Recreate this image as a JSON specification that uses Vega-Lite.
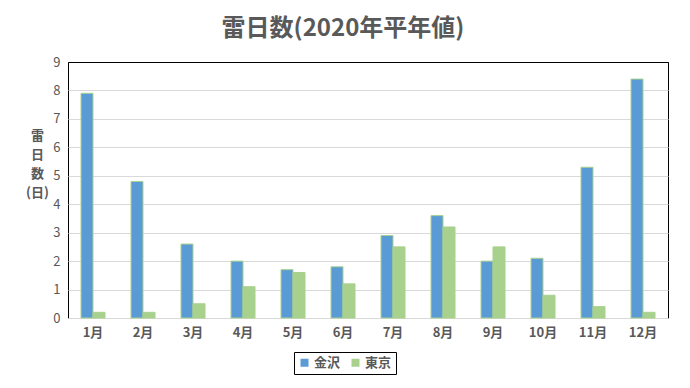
{
  "$schema": "https://vega.github.io/schema/vega-lite/v6.json",
  "width": 600,
  "height": 256,
  "autosize": {"type": "none"},
  "padding": {"left": 68, "top": 62, "right": 22, "bottom": 70},
  "background": "white",
  "title": {
    "text": "雷日数(2020年平年値)",
    "font": "Noto Sans CJK JP",
    "fontSize": 24,
    "fontWeight": "bold",
    "color": "#595959",
    "anchor": "middle",
    "dx": -25,
    "offset": 15
  },
  "data": {
    "values": [
      {"month": "1月", "city": "金沢", "days": 7.9},
      {"month": "1月", "city": "東京", "days": 0.2},
      {"month": "2月", "city": "金沢", "days": 4.8},
      {"month": "2月", "city": "東京", "days": 0.2},
      {"month": "3月", "city": "金沢", "days": 2.6},
      {"month": "3月", "city": "東京", "days": 0.5},
      {"month": "4月", "city": "金沢", "days": 2.0},
      {"month": "4月", "city": "東京", "days": 1.1},
      {"month": "5月", "city": "金沢", "days": 1.7},
      {"month": "5月", "city": "東京", "days": 1.6},
      {"month": "6月", "city": "金沢", "days": 1.8},
      {"month": "6月", "city": "東京", "days": 1.2},
      {"month": "7月", "city": "金沢", "days": 2.9},
      {"month": "7月", "city": "東京", "days": 2.5},
      {"month": "8月", "city": "金沢", "days": 3.6},
      {"month": "8月", "city": "東京", "days": 3.2},
      {"month": "9月", "city": "金沢", "days": 2.0},
      {"month": "9月", "city": "東京", "days": 2.5},
      {"month": "10月", "city": "金沢", "days": 2.1},
      {"month": "10月", "city": "東京", "days": 0.8},
      {"month": "11月", "city": "金沢", "days": 5.3},
      {"month": "11月", "city": "東京", "days": 0.4},
      {"month": "12月", "city": "金沢", "days": 8.4},
      {"month": "12月", "city": "東京", "days": 0.2}
    ]
  },
  "mark": {"type": "bar", "stroke": "#A9D18E", "strokeWidth": 1},
  "encoding": {
    "x": {
      "field": "month",
      "type": "nominal",
      "sort": null,
      "scale": {"paddingInner": 0.52, "paddingOuter": 0.26},
      "axis": {
        "title": null,
        "labelAngle": 0,
        "labelFont": "Noto Sans CJK JP",
        "labelFontSize": 13,
        "labelColor": "#595959",
        "labelFontWeight": "bold",
        "labelPadding": 8,
        "ticks": false,
        "domainColor": "#d9d9d9",
        "domainWidth": 1,
        "grid": false
      }
    },
    "xOffset": {
      "field": "city",
      "type": "nominal",
      "sort": ["金沢", "東京"],
      "scale": {"paddingInner": 0, "paddingOuter": 0}
    },
    "y": {
      "field": "days",
      "type": "quantitative",
      "scale": {"domain": [0, 9], "nice": false},
      "axis": {
        "values": [0, 1, 2, 3, 4, 5, 6, 7, 8, 9],
        "title": ["雷", "日", "数", "(日)"],
        "titleAngle": 0,
        "titleFont": "Noto Sans CJK JP",
        "titleFontSize": 13,
        "titleFontWeight": "bold",
        "titleColor": "#595959",
        "titleLineHeight": 19,
        "titleAlign": "center",
        "titleBaseline": "middle",
        "titleX": -31,
        "titleY": 73,
        "labelFont": "Noto Sans CJK JP",
        "labelFontSize": 13,
        "labelColor": "#595959",
        "labelPadding": 8,
        "ticks": false,
        "domain": false,
        "gridColor": {"condition": {"test": "datum.value == 9", "value": "black"}, "value": "#d9d9d9"},
        "gridWidth": 1
      }
    },
    "color": {
      "field": "city",
      "type": "nominal",
      "sort": ["金沢", "東京"],
      "scale": {"domain": ["金沢", "東京"], "range": ["#5B9BD5", "#A9D18E"]},
      "legend": {
        "title": null,
        "orient": "none",
        "direction": "horizontal",
        "legendX": 226,
        "legendY": 290,
        "symbolType": "square",
        "symbolSize": 64,
        "symbolStrokeWidth": 0,
        "labelFont": "Noto Sans CJK JP",
        "labelFontSize": 13,
        "labelFontWeight": "bold",
        "labelColor": "#595959",
        "columnPadding": 8,
        "labelOffset": 3,
        "padding": 4,
        "strokeColor": "black",
        "fillColor": "white"
      }
    }
  },
  "config": {
    "view": {"stroke": "black", "strokeWidth": 1}
  }
}
